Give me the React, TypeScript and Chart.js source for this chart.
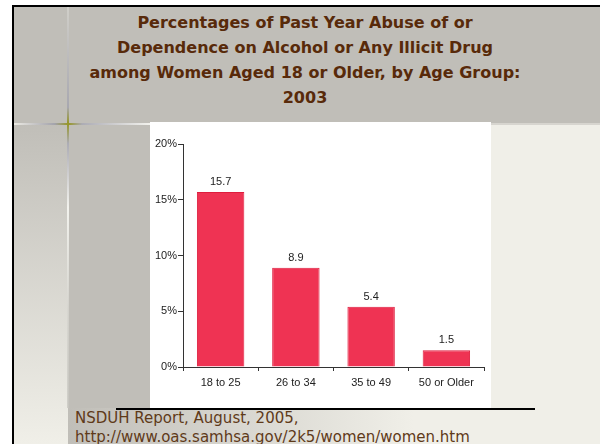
import React, { useEffect, useRef } from "react";
import { Chart, registerables } from "chart.js";

Chart.register(...registerables);

const categories = ["18 to 25", "26 to 34", "35 to 49", "50 or Older"];
const values = [15.7, 8.9, 5.4, 1.5];
const yTickValues = [0, 5, 10, 15, 20];
const titleLines = [
  "Percentages of Past Year Abuse of or",
  "Dependence on Alcohol or Any Illicit Drug",
  "among Women Aged 18 or Older, by Age Group:",
  "2003",
];
const sourceLines = [
  "NSDUH Report, August, 2005,",
  "http://www.oas.samhsa.gov/2k5/women/women.htm",
];

const labelPlugin = {
  id: "barValueLabels",
  afterDatasetsDraw(chart: any) {
    const ctx = chart.ctx;
    const meta = chart.getDatasetMeta(0);
    ctx.save();
    ctx.font = "11px 'Liberation Sans', Arial, sans-serif";
    ctx.fillStyle = "#222";
    ctx.textAlign = "center";
    ctx.textBaseline = "middle";
    meta.data.forEach((bar: any, i: number) => {
      ctx.fillText(values[i].toFixed(1), bar.x, bar.y - 10);
    });
    ctx.restore();
  },
};

function BarChart() {
  const ref = useRef<HTMLCanvasElement>(null);
  useEffect(() => {
    if (!ref.current) return;
    const chart = new Chart(ref.current, {
      type: "bar",
      data: {
        labels: categories,
        datasets: [
          {
            data: values,
            backgroundColor: "rgb(239,51,83)",
            borderColor: "rgb(222,30,62)",
            borderWidth: 1,
            barPercentage: 0.63,
            categoryPercentage: 1,
          },
        ],
      },
      options: {
        animation: false,
        responsive: false,
        devicePixelRatio: 1,
        layout: { padding: { top: 22, right: 7, left: 0, bottom: 0 } },
        plugins: {
          legend: { display: false },
          tooltip: { enabled: false },
          title: { display: false },
        },
        scales: {
          x: {
            afterFit(scale: any) {
              scale.height = 41;
            },
            grid: {
              display: true,
              offset: true,
              drawOnChartArea: false,
              drawTicks: true,
              tickLength: 4,
              color: "#333",
            },
            border: { display: true, color: "#333", width: 1 },
            ticks: {
              color: "#222",
              padding: 5,
              font: { family: "'Liberation Sans', Arial, sans-serif", size: 11 },
              maxRotation: 0,
            },
          },
          y: {
            min: 0,
            max: 20,
            afterFit(scale: any) {
              scale.width = 33;
            },
            afterBuildTicks(scale: any) {
              scale.ticks = yTickValues.map((v) => ({ value: v }));
            },
            grid: {
              display: true,
              drawOnChartArea: false,
              drawTicks: true,
              tickLength: 5,
              color: "#333",
            },
            border: { display: true, color: "#333", width: 1 },
            ticks: {
              color: "#222",
              padding: 1,
              font: { family: "'Liberation Sans', Arial, sans-serif", size: 11 },
              callback: (v: any) => v + "%",
            },
          },
        },
      },
      plugins: [labelPlugin],
    });
    return () => chart.destroy();
  }, []);
  return <canvas ref={ref} width={341} height={286} style={{ display: "block" }} />;
}

export default function App() {
  const gray = "rgb(192,190,184)";
  const light = "rgb(240,239,232)";
  return (
    <div
      style={{
        position: "fixed",
        left: 0,
        top: 0,
        width: 600,
        height: 444,
        overflow: "hidden",
        background: "#ffffff",
      }}
    >
      {/* main slide body */}
      <div style={{ position: "absolute", left: 14, top: 7, width: 586, height: 437, background: light }} />
      {/* title band */}
      <div style={{ position: "absolute", left: 14, top: 7, width: 586, height: 116, background: gray }} />
      {/* left strip gradient */}
      <div
        style={{
          position: "absolute",
          left: 14,
          top: 123,
          width: 54,
          height: 321,
          background: `linear-gradient(to bottom, ${gray}, ${light})`,
        }}
      />
      {/* gray column */}
      <div style={{ position: "absolute", left: 68, top: 123, width: 82, height: 286, background: gray }} />
      {/* footer gradient */}
      <div
        style={{
          position: "absolute",
          left: 68,
          top: 408,
          width: 532,
          height: 36,
          background: `linear-gradient(to right, ${gray} 0%, ${light} 65%, ${light} 100%)`,
        }}
      />
      {/* black borders */}
      <div style={{ position: "absolute", left: 12, top: 5, width: 588, height: 2, background: "#000" }} />
      <div style={{ position: "absolute", left: 12, top: 5, width: 2, height: 439, background: "#000" }} />
      {/* decorative cross */}
      <div
        style={{
          position: "absolute",
          left: 67,
          top: 7,
          width: 2,
          height: 401,
          background:
            "linear-gradient(to bottom, rgba(215,214,208,0.7) 0%, rgba(165,165,175,0.9) 25%, rgb(150,150,40) 29%, rgba(170,170,180,0.9) 34%, rgba(245,245,240,0.95) 50%, rgba(215,214,208,0.8) 75%, rgba(200,199,193,0.8) 100%)",
        }}
      />
      <div
        style={{
          position: "absolute",
          left: 14,
          top: 123,
          width: 136,
          height: 2,
          background:
            "linear-gradient(to right, rgba(240,239,232,0.9) 0%, rgba(160,160,170,0.9) 30%, rgb(150,150,40) 40%, rgba(170,170,180,0.9) 50%, rgba(245,245,240,0.95) 100%)",
        }}
      />
      <div style={{ position: "absolute", left: 491, top: 123, width: 109, height: 2, background: "rgb(215,213,207)" }} />
      {/* title */}
      <div
        style={{
          position: "absolute",
          left: 12,
          top: 10,
          width: 586,
          textAlign: "center",
          fontFamily: "'DejaVu Sans', Verdana, sans-serif",
          fontWeight: "bold",
          fontSize: 16,
          lineHeight: "25px",
          color: "rgb(88,42,10)",
        }}
      >
        {titleLines.map((t, i) => (
          <div key={i}>{t}</div>
        ))}
      </div>
      {/* chart white box */}
      <div style={{ position: "absolute", left: 150, top: 122, width: 341, height: 286, background: "#fff" }}>
        <BarChart />
      </div>
      {/* footer rule */}
      <div style={{ position: "absolute", left: 116, top: 408, width: 419, height: 2, background: "#000" }} />
      {/* source */}
      <div
        style={{
          position: "absolute",
          left: 75,
          top: 409,
          fontFamily: "'DejaVu Sans', Verdana, sans-serif",
          fontSize: 15,
          lineHeight: "19px",
          color: "rgb(95,58,25)",
          whiteSpace: "nowrap",
        }}
      >
        {sourceLines.map((t, i) => (
          <div key={i}>{t}</div>
        ))}
      </div>
    </div>
  );
}
